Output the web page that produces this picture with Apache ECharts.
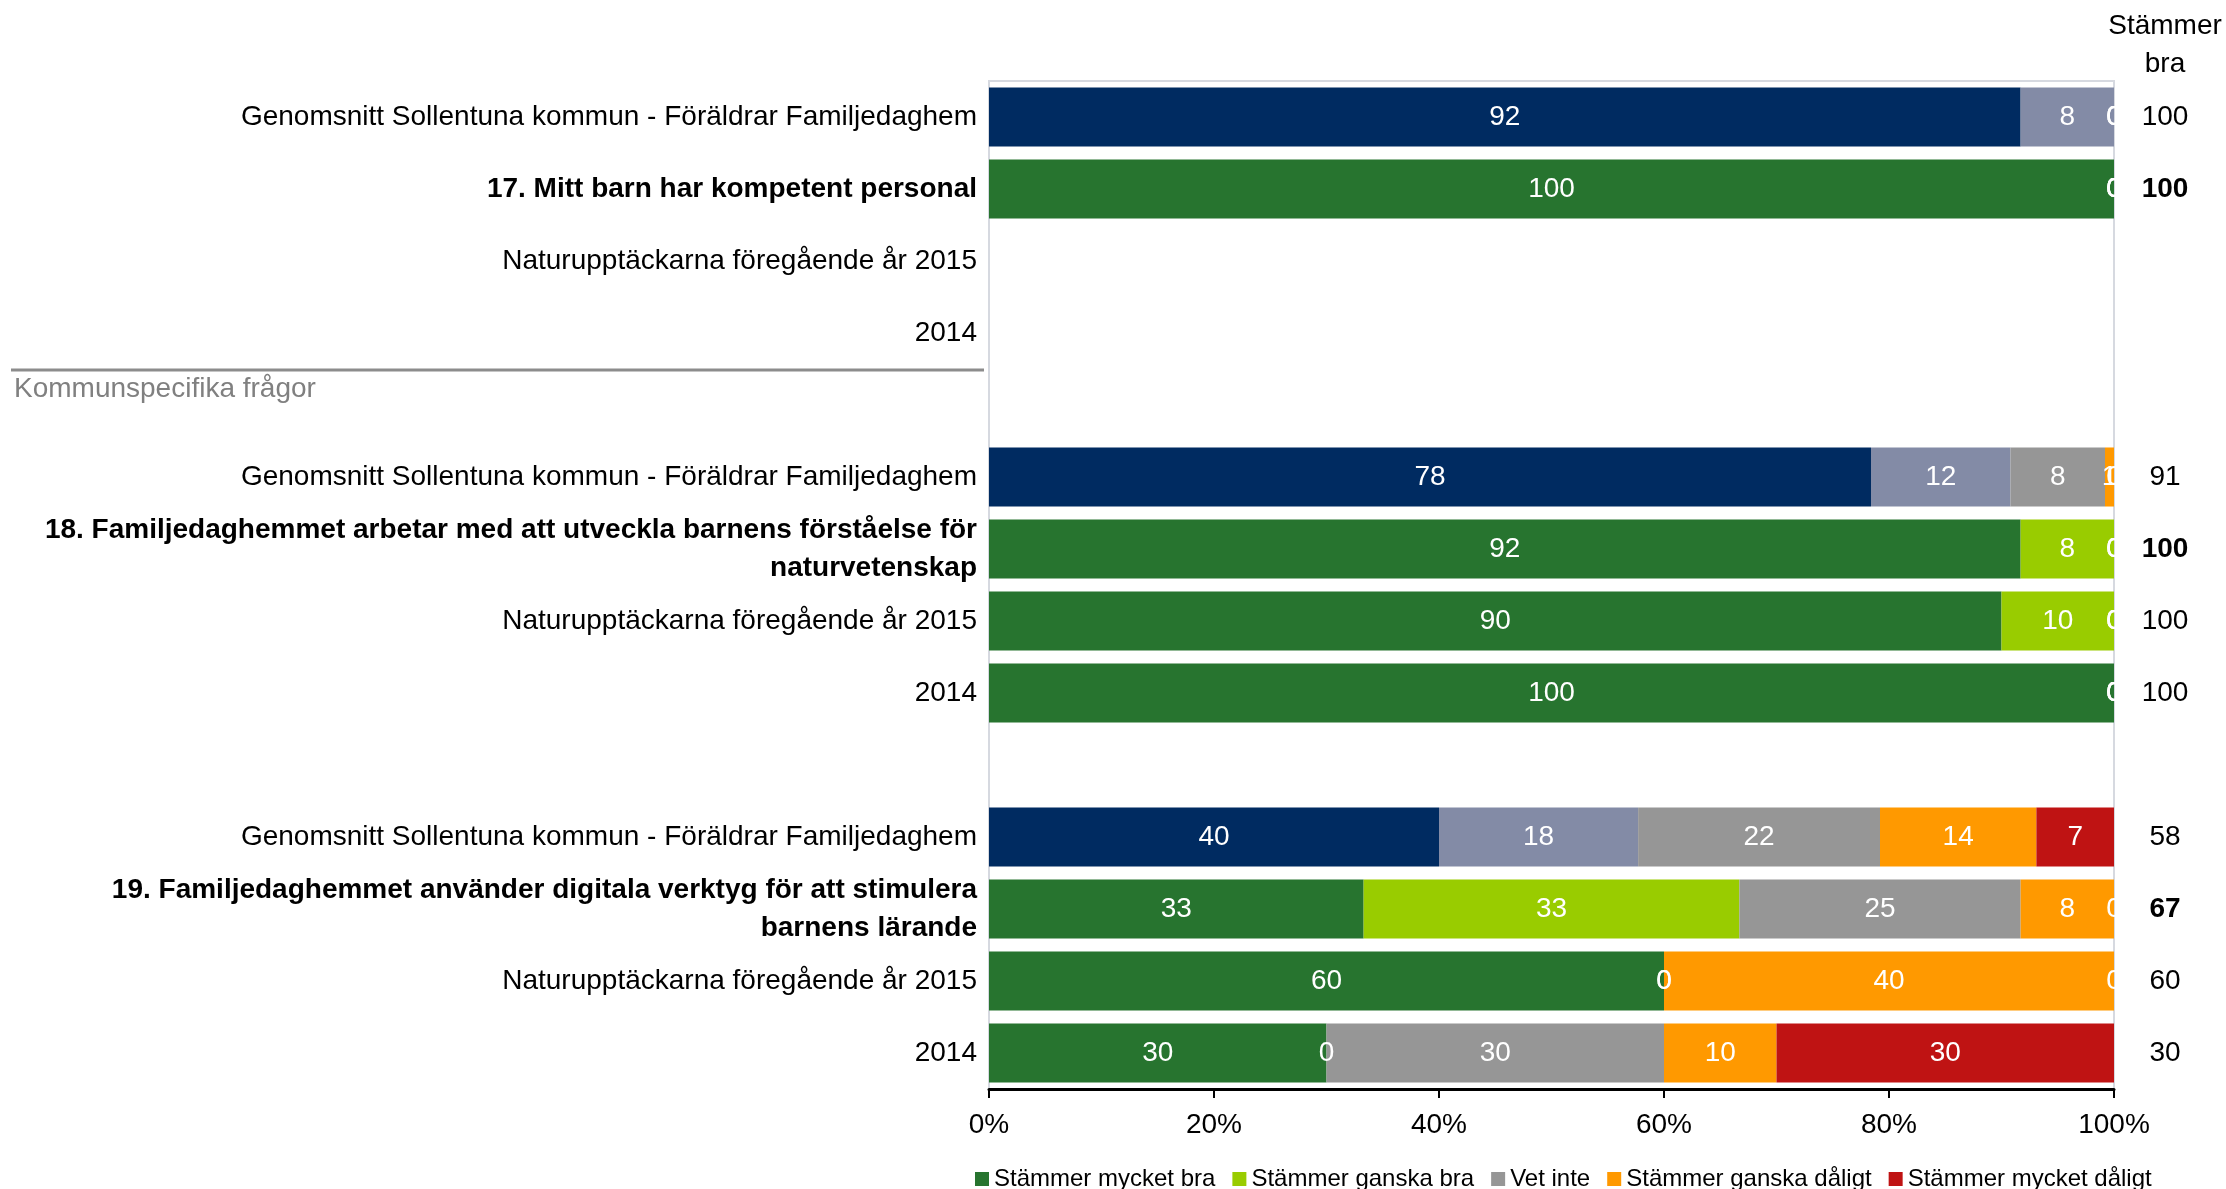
<!DOCTYPE html>
<html>
<head>
<meta charset="utf-8">
<title>Kommunspecifika frågor</title>
<script src="https://cdn.jsdelivr.net/npm/echarts@6/dist/echarts.min.js"></script>
<style>
  html, body { margin: 0; padding: 0; background: #fff; }
  #chart { width: 2226px; height: 1189px; }
</style>
</head>
<body>
<div id="chart"></div>
<script>
// rader uppifrån och ned, tomma rader = mellanrum mellan frågorna
const rowLabels = [
  'Genomsnitt Sollentuna kommun - Föräldrar Familjedaghem',
  '17. Mitt barn har kompetent personal',
  'Naturupptäckarna föregående år 2015',
  '2014',
  '',
  'Genomsnitt Sollentuna kommun - Föräldrar Familjedaghem',
  '18. Familjedaghemmet arbetar med att utveckla barnens förståelse för\nnaturvetenskap',
  'Naturupptäckarna föregående år 2015',
  '2014',
  '',
  'Genomsnitt Sollentuna kommun - Föräldrar Familjedaghem',
  '19. Familjedaghemmet använder digitala verktyg för att stimulera\nbarnens lärande',
  'Naturupptäckarna föregående år 2015',
  '2014'
]
const boldRows = [1, 6, 11]
const averageRows = [0, 5, 10]

const seriesNames = ['Stämmer mycket bra', 'Stämmer ganska bra', 'Vet inte', 'Stämmer ganska dåligt', 'Stämmer mycket dåligt']

const mycketBra    = [91.7, 100, '-', '-', '-', 78.4, 91.7, 90, 100, '-', 40,   33.3, 60, 30]
const ganskaBra    = [8.3,  0,   '-', '-', '-', 12.4, 8.3,  10, 0,   '-', 17.7, 33.4, 0,  0]
const vetInte      = [0,    0,   '-', '-', '-', 8.4,  0,    0,  0,   '-', 21.5, 25,   0,  30]
const ganskaDaligt = [0,    0,   '-', '-', '-', 0.8,  0,    0,  0,   '-', 13.9, 8.3,  40, 10]
const mycketDaligt = [0,    0,   '-', '-', '-', 0,    0,    0,  0,   '-', 6.9,  0,    0,  30]

const stammerBra = ['100', '100', '', '', '', '91', '100', '100', '100', '', '58', '67', '60', '30']

const xTicks = [0, 20, 40, 60, 80, 100]

// färger
const colors = ['#27742F', '#99CC00', '#969696', '#FF9900', '#BF1313']
const avgColors = ['#002B61', '#838BA6', '#969696', '#FF9900', '#BF1313']

const font = "'Liberation Sans', Arial, sans-serif"

const allData = [mycketBra, ganskaBra, vetInte, ganskaDaligt, mycketDaligt]

const series = allData.map((arr, si) => ({
  name: seriesNames[si],
  type: 'bar',
  stack: 'total',
  barCategoryGap: '18%',
  itemStyle: { color: colors[si] },
  label: {
    show: true,
    position: 'inside',
    color: '#fff',
    fontSize: 28,
    fontFamily: font,
    formatter: p => Math.round(p.value)
  },
  data: arr.map((v, i) => averageRows.includes(i)
    ? { value: v, itemStyle: { color: avgColors[si] } }
    : v)
}))

const myChart = echarts.init(document.getElementById('chart'))

const option = {
  animation: false,
  textStyle: { fontFamily: font },
  grid: {
    left: 989,
    right: 112,
    top: 81,
    bottom: 100,
    show: true,
    borderColor: '#D6D9E0',
    borderWidth: 2
  },
  legend: {
    data: seriesNames,
    left: 970,
    top: 1162,
    icon: 'rect',
    itemWidth: 14,
    itemHeight: 14,
    itemGap: 17,
    textStyle: { fontSize: 24, color: '#000', fontFamily: font }
  },
  xAxis: {
    type: 'value',
    min: 0,
    max: 100,
    interval: 20,
    axisLine: { show: true, lineStyle: { color: '#000', width: 3 } },
    axisTick: { show: true, length: 9, lineStyle: { color: '#000', width: 2 } },
    splitLine: { show: false },
    axisLabel: {
      fontSize: 28,
      color: '#000',
      margin: 22,
      fontFamily: font,
      formatter: v => xTicks.includes(v) ? v + '%' : ''
    }
  },
  yAxis: [
    {
      type: 'category',
      inverse: true,
      data: rowLabels,
      axisLine: { show: false },
      axisTick: { show: false },
      axisLabel: {
        interval: 0,
        margin: 12,
        fontSize: 28,
        color: '#000',
        fontFamily: font,
        lineHeight: 38,
        formatter: (v, i) => {
          if (boldRows.includes(i)) {
            return v.split('\n').map(s => '{b|' + s + '}').join('\n')
          }
          return v
        },
        rich: {
          b: { fontWeight: 'bold', fontSize: 28, color: '#000', lineHeight: 38, fontFamily: font }
        }
      }
    },
    {
      type: 'category',
      inverse: true,
      position: 'right',
      data: rowLabels,
      axisLine: { show: false },
      axisTick: { show: false },
      axisLabel: {
        interval: 0,
        margin: 51,
        align: 'center',
        fontSize: 28,
        color: '#000',
        fontFamily: font,
        formatter: (v, i) => boldRows.includes(i) ? '{b|' + stammerBra[i] + '}' : stammerBra[i],
        rich: {
          b: { fontWeight: 'bold', fontSize: 28, color: '#000', fontFamily: font }
        }
      }
    }
  ],
  graphic: [
    {
      type: 'line',
      shape: { x1: 11, y1: 370, x2: 984, y2: 370 },
      style: { stroke: '#8C8C8C', lineWidth: 3 }
    },
    {
      type: 'text',
      x: 14,
      y: 389,
      style: {
        text: 'Kommunspecifika frågor',
        fill: '#808080',
        fontSize: 28,
        fontFamily: font,
        textVerticalAlign: 'middle'
      }
    },
    {
      type: 'text',
      x: 2165,
      y: 45,
      style: {
        text: 'Stämmer\nbra',
        fill: '#000',
        fontSize: 28,
        lineHeight: 38,
        fontFamily: font,
        textAlign: 'center',
        textVerticalAlign: 'middle'
      }
    }
  ],
  series: series
}

myChart.setOption(option)
</script>
</body>
</html>
